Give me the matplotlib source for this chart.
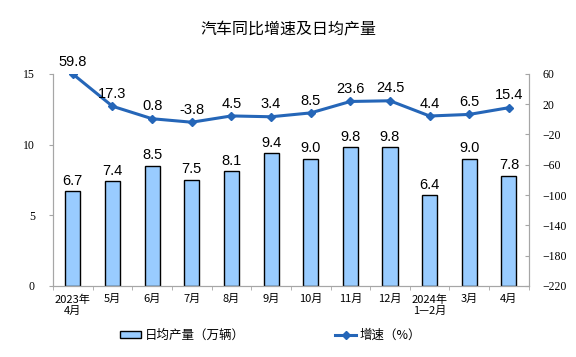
import numpy as np
import matplotlib
matplotlib.use("Agg")
from matplotlib import pyplot as plt

plt.rcParams['font.family'] = ['Liberation Serif', 'Noto Sans CJK SC', 'DejaVu Sans']

# Data
months = ["2023年\n4月", "5月", "6月", "7月", "8月", "9月", "10月", "11月",
          "12月", "2024年\n1—2月", "3月", "4月"]
daily_output = [6.7, 7.4, 8.5, 7.5, 8.1, 9.4, 9.0, 9.8, 9.8, 6.4, 9.0, 7.8]
growth = [59.8, 17.3, 0.8, -3.8, 4.5, 3.4, 8.5, 23.6, 24.5, 4.4, 6.5, 15.4]

label_font = ['Liberation Sans', 'DejaVu Sans']
cjk_font = ['Noto Sans CJK SC', 'DejaVu Sans']
bar_color = "#99CCFF"
line_color = "#2566B8"
spine_color = "#A6A6A6"

fig = plt.figure(figsize=(5.76, 3.57), dpi=100)
ax = fig.add_axes([0.092, 0.199, 0.826, 0.594])
x = np.arange(len(months))

ax.bar(x, daily_output, width=0.38, color=bar_color, edgecolor="black",
       linewidth=1.0, label="日均产量（万辆）", zorder=2)
for xi, v in zip(x, daily_output):
    ax.text(xi, v + 0.25, f"{v:.1f}", ha="center", va="bottom", fontsize=10.5,
            family=label_font)

ax.set_xlim(-0.5, len(months) - 0.5)
ax.set_ylim(0, 15)
ax.set_yticks([0, 5, 10, 15])
ax.set_xticks(x)
ax.set_xticklabels(months, fontsize=8, family=cjk_font, linespacing=1.1)
ax.set_xticks(np.arange(-0.5, len(months)), minor=True)
ax.tick_params(axis="x", which="major", length=0, pad=6)
ax.tick_params(axis="x", which="minor", length=3, color=spine_color)
ax.tick_params(axis="y", labelsize=8.5, length=3, color=spine_color, pad=10)
ax.spines["top"].set_visible(False)
for s in ["left", "bottom", "right"]:
    ax.spines[s].set_color(spine_color)

ax2 = ax.twinx()
ax2.plot(x, growth, color=line_color, linewidth=2.2, marker="D", markersize=4,
         label="增速（%）", zorder=3)
for xi, v in zip(x, growth):
    ax2.text(xi, v + 7, f"{v:.1f}", ha="center", va="bottom", fontsize=10.5,
             family=label_font)
ax2.set_ylim(-220, 60)
ax2.set_yticks(np.arange(-220, 61, 40))
ax2.tick_params(axis="y", labelsize=8.5, length=3, direction="in",
                color=spine_color, pad=10)
ax2.spines["top"].set_visible(False)
for s in ["left", "bottom", "right"]:
    ax2.spines[s].set_color(spine_color)

fig.text(0.5, 0.915, "汽车同比增速及日均产量", ha="center", va="center",
         fontsize=11.5, family=cjk_font)

h1, l1 = ax.get_legend_handles_labels()
h2, l2 = ax2.get_legend_handles_labels()
fig.legend(h1 + h2, l1 + l2, loc="center", bbox_to_anchor=(0.47, 0.06), ncol=2,
           frameon=False, prop={"family": cjk_font, "size": 9},
           columnspacing=7.2, handlelength=1.7, handleheight=0.45, handletextpad=0.3)

plt.savefig("out.png", dpi=100)
